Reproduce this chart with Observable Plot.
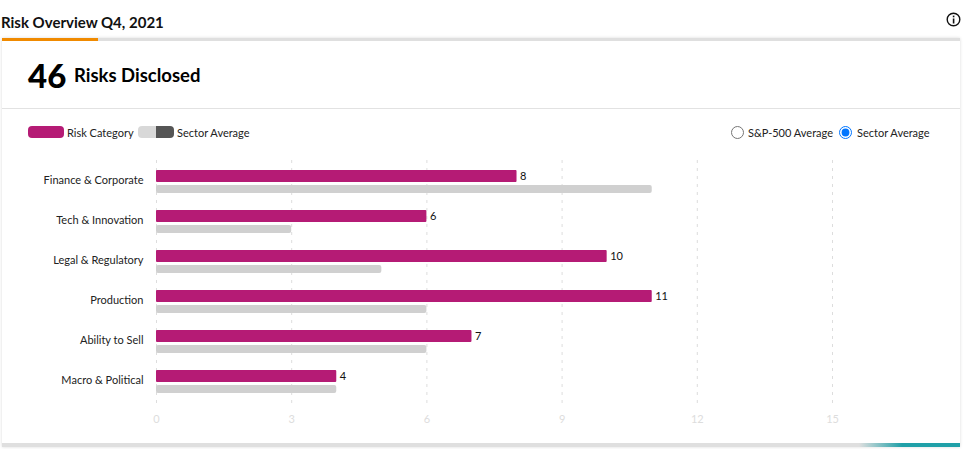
<!DOCTYPE html>
<html><head><meta charset="utf-8">
<script src="https://cdn.jsdelivr.net/npm/d3@7"></script>
<script src="https://cdn.jsdelivr.net/npm/@observablehq/plot@0.6"></script>
<style>
html,body{margin:0;padding:0;background:#fff;overflow:hidden}
body{width:965px;height:449px;position:relative;font-family:Lato,"Open Sans",sans-serif;color:#111}
.a{position:absolute;white-space:nowrap}
#chart{position:absolute;left:0;top:155px}
#chart svg{display:block;background:transparent}
.lg{font-size:11px;line-height:14px;top:126px;color:#222}
input{position:absolute;margin:0;width:13px;height:13px}
</style></head><body>
<div class="a" style="left:2px;top:38px;width:958px;height:409px;box-shadow:0 0 3px rgba(0,0,0,.15);background:#fff"></div>
<div class="a" style="left:2px;top:38px;width:958px;height:3px;background:#dfdfdf"></div>
<div class="a" style="left:2px;top:38px;width:96px;height:3px;background:#f08a00"></div>
<div class="a" style="left:2px;top:443px;width:958px;height:4px;background:linear-gradient(90deg,#dfdfdf 0,#dfdfdf 857px,#20a0a8 900px)"></div>
<div class="a" style="left:2px;top:108px;width:958px;height:1px;background:#e2e2e2"></div>
<div class="a" id="title" style="left:1px;top:13px;font-size:15px;line-height:18px;font-weight:700">Risk Overview Q4, 2021</div>
<div class="a" style="left:28px;top:56px;font-size:33px;line-height:38px;font-weight:900;color:#000">46</div>
<div class="a" style="left:74px;top:63px;font-size:18.5px;line-height:24px;font-weight:700;color:#000">Risks Disclosed</div>
<div class="a" style="left:28px;top:126px;width:36px;height:12px;border-radius:4px;background:#b51b75"></div>
<div class="a lg" style="left:67px">Risk Category</div>
<div class="a" style="left:138px;top:126px;width:36px;height:12px;border-radius:4px;background:linear-gradient(90deg,#d8d8d8 50%,#555 50%)"></div>
<div class="a lg" style="left:177px">Sector Average</div>
<input type="radio" name="b" style="left:731px;top:126px">
<div class="a lg" style="left:748px">S&amp;P-500 Average</div>
<input type="radio" name="b" checked style="left:839px;top:126px">
<div class="a lg" style="left:857px">Sector Average</div>
<svg class="a" style="left:945px;top:11px" width="17" height="17" viewBox="0 0 17 17"><circle cx="8.5" cy="8.5" r="6.3" fill="none" stroke="#111" stroke-width="1.4"/><rect x="7.8" y="7.5" width="1.6" height="5" fill="#111"/><rect x="7.8" y="4.6" width="1.6" height="1.7" fill="#111"/></svg>
<div id="chart"></div>
<script>
const categories = ["Finance & Corporate","Tech & Innovation","Legal & Regulatory","Production","Ability to Sell","Macro & Political"];
const riskValues = [8,6,10,11,7,4];
const sectorValues = [11,3,5,6,6,4];
const xTicks = [0,3,6,9,12,15];
const risk = categories.map((c,i)=>({c,v:riskValues[i]}));
const sector = categories.map((c,i)=>({c,v:sectorValues[i]}));
const plot = Plot.plot({
  width:965,height:275,marginLeft:156,marginRight:133,marginTop:5,marginBottom:30,
  style:{fontFamily:'Lato,"Open Sans",sans-serif',fontSize:"11px",background:"transparent",overflow:"visible"},
  x:{domain:[0,15],ticks:xTicks,label:null,axis:null},
  y:{domain:categories,padding:0,label:null,axis:null},
  marks:[
    Plot.ruleX(xTicks,{stroke:"#ddd",strokeDasharray:"3,5",strokeWidth:1,insetBottom:-7}),
    Plot.barX(sector,{x:"v",y:"c",fill:"#d0d0d0",insetTop:25,insetBottom:7,rx:2}),
    Plot.barX(risk,{x:"v",y:"c",fill:"#b51b75",insetTop:10,insetBottom:18,rx:1}),
    Plot.text(risk,{x:"v",y:"c",text:d=>String(d.v),dx:3,dy:-4,textAnchor:"start",fill:"#111",fontSize:11}),
    Plot.axisY({anchor:"left",tickSize:0,tickPadding:13,label:null,fill:"#222",fontSize:11}),
    Plot.axisX({anchor:"bottom",ticks:xTicks,tickSize:0,tickPadding:15,label:null,fill:"#ddd",fontSize:11})
  ]
});
document.getElementById("chart").append(plot);
</script>
</body></html>
